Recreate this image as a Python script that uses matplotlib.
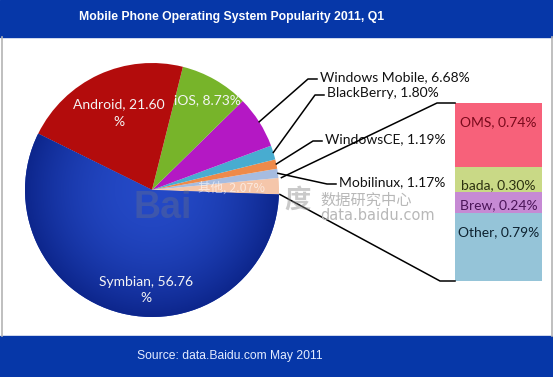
import numpy as np
import matplotlib.pyplot as plt
from matplotlib.patches import Rectangle
from matplotlib.colors import to_rgb

W, H = 553, 377

title = 'Mobile Phone Operating System Popularity 2011, Q1'
source = 'Source: data.Baidu.com May 2011'

# main pie, listed clockwise starting with the big slice
pie_names = ['Symbian', 'Android', 'iOS', 'Windows Mobile', 'BlackBerry', 'WindowsCE', 'Mobilinux']
pie_values = [56.76, 21.60, 8.73, 6.68, 1.80, 1.19, 1.17]
pie_colors = ['#1a3cb4', '#b30c0c', '#77b42a', '#b418c4', '#48acd0', '#ee8a4a', '#a6bce0']

# the small ones, split out into the bar on the right
other_name = '其他'
other_color = '#f5c6aa'
bar_names = ['OMS', 'bada', 'Brew', 'Other']
bar_values = [0.74, 0.30, 0.24, 0.79]
bar_colors = ['#f7617a', '#c9d986', '#c68ad4', '#95c4d8']
bar_text_colors = ['#7a0a1c', '#2c3010', '#4a1458', '#0e2230']


def Y(y):
    # pixel row (from top) -> plot y
    return H - y


fig = plt.figure(figsize=(W / 100, H / 100), dpi=100)
ax = fig.add_axes([0, 0, 1, 1])

blue = '#0637a8'
ax.add_patch(Rectangle((0, Y(37)), W, 37, color=blue, zorder=0))
ax.add_patch(Rectangle((0, 0), W, Y(336), color=blue, zorder=0))
ax.plot([1.5, 1.5], [Y(37), Y(336)], color='#b4b4b4', lw=1.2, zorder=0)
ax.plot([551.5, 551.5], [Y(37), Y(336)], color='#b4b4b4', lw=1.2, zorder=0)

ax.text(232, Y(17), title, color='white', fontsize=8.8, fontweight='bold',
        family='Liberation Sans', ha='center', va='center')
ax.text(230, Y(356), source, color='#e4ecff', fontsize=8.7,
        family='Liberation Sans', ha='center', va='center')

# pie goes counterclockwise from the split-out group
cx, cy, R = 152, Y(190), 127
values = [sum(bar_values)] + pie_values[::-1]
colors = [other_color] + pie_colors[::-1]
wedges, _ = ax.pie(values, colors=colors, startangle=-2, counterclock=True,
                   center=(cx, cy), radius=R, wedgeprops=dict(linewidth=0))
by_name = dict(zip(pie_names, wedges[1:][::-1]))

# darker rim on the Symbian slice
yy, xx = np.mgrid[-1:1:300j, -1:1:300j]
rr = np.clip(np.hypot(xx, yy), 0, 1)[..., None]
inner, outer = np.array(to_rgb('#2449c6')), np.array(to_rgb('#0d268c'))
img = inner + (outer - inner) * rr ** 2
im = ax.imshow(img, extent=(cx - R, cx + R, cy - R, cy + R), origin='lower', zorder=1)
im.set_clip_path(by_name['Symbian'])


def polar(angle, r):
    a = np.deg2rad(angle)
    return cx + r * np.cos(a), cy + r * np.sin(a)


lab_font = dict(family='Lato', fontsize=10)

# labels inside the pie
inside = {'Android': (119, 113), 'iOS': (207, 100), 'Symbian': (146, 290)}
for name, (x, y) in inside.items():
    v = pie_values[pie_names.index(name)]
    txt = f'{name}, {v:.2f}%' if name == 'iOS' else f'{name}, {v:.2f}\n%'
    ax.text(x, Y(y), txt, color='#f4f4f4', ha='center', va='center',
            linespacing=1.5, zorder=3, **lab_font)

# labels outside with leader lines
outside = {'Windows Mobile': (320, 77), 'BlackBerry': (327, 93),
           'WindowsCE': (325, 139), 'Mobilinux': (339, 182)}
for name, (tx, ty) in outside.items():
    w = by_name[name]
    x0, y0 = polar((w.theta1 + w.theta2) / 2, R)
    ax.plot([x0, tx - 12, tx - 3], [y0, Y(ty + 2), Y(ty + 2)], color='black', lw=1.1, zorder=3)
    v = pie_values[pie_names.index(name)]
    ax.text(tx, Y(ty), f'{name}, {v:.2f}%', color='#111111', ha='left', va='center',
            zorder=3, **lab_font)

grp = wedges[0]
ax.text(*polar((grp.theta1 + grp.theta2) / 2, 80), f'{other_name}, {sum(bar_values):.2f}%',
        color='white', alpha=0.6, fontsize=9, family=['Noto Sans CJK SC', 'DejaVu Sans'],
        ha='center', va='center', zorder=3)

# bar of the split-out group
bx0, bx1, btop, bbot = 455, 542, 103, 281
scale = (bbot - btop) / sum(bar_values)
text_pos = [0.3, 0.72, 0.62, 0.28]
top = Y(btop)
for name, v, c, tc, f in zip(bar_names, bar_values, bar_colors, bar_text_colors, text_pos):
    h = v * scale
    ax.bar((bx0 + bx1) / 2, h, width=bx1 - bx0, bottom=top - h, color=c, zorder=2)
    ax.text((bx0 + bx1) / 2, top - f * h, f'{name}, {v:.2f}%', color=tc,
            ha='center', va='center', zorder=3, **lab_font)
    top -= h

x0, y0 = polar(grp.theta2, R + 3)
ax.plot([x0, bx0 - 18, bx0], [y0, Y(btop), Y(btop)], color='black', lw=1.1, zorder=3)
x0, y0 = polar(grp.theta1, R + 1)
ax.plot([x0, bx0 - 15, bx0], [y0, Y(bbot), Y(bbot)], color='black', lw=1.1, zorder=3)

# baidu watermark
ax.text(133, Y(208), 'Bai', fontsize=27, fontweight='bold', color='#7a7a7a', alpha=0.3,
        family='Liberation Sans', ha='left', va='center', zorder=4)
ax.text(284, Y(200), '度', fontsize=19, fontweight='bold', color='#8a8a8a', alpha=0.45,
        family='Noto Sans CJK SC', ha='left', va='center', zorder=4)
ax.text(320, Y(200), '数据研究中心', fontsize=11, color='#b8b8b8',
        family='Noto Sans CJK SC', ha='left', va='center', zorder=4)
ax.text(320, Y(216), 'data.baidu.com', fontsize=10.5, color='#b8b8b8',
        family='DejaVu Sans', ha='left', va='center', zorder=4)

ax.set_xlim(0, W)
ax.set_ylim(0, H)
ax.set_aspect('auto')
ax.axis('off')

fig.savefig('out.png', dpi=100)
